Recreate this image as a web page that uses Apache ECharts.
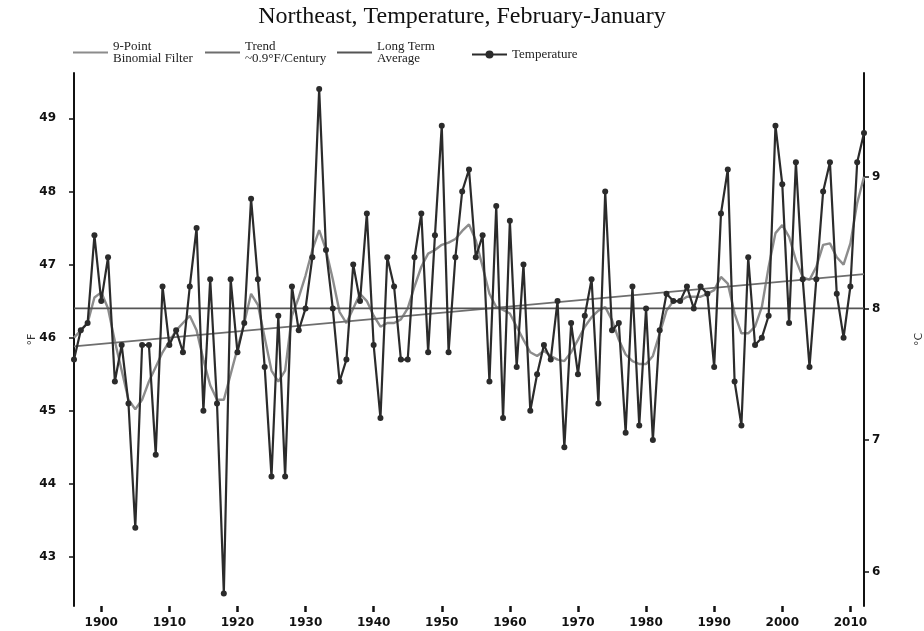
<!DOCTYPE html>
<html>
<head>
<meta charset="utf-8">
<title>Northeast, Temperature, February-January</title>
<script src="https://cdn.jsdelivr.net/npm/echarts@6.0.0/dist/echarts.min.js"></script>
<style>
  html, body { margin: 0; padding: 0; background: #fff; }
  #chart { width: 924px; height: 631px; }
</style>
</head>
<body>
<div id="chart"></div>
<script>
// annual (Feb-Jan) mean temperature, °F, 1896..2012
const firstYear = 1896;
const temperature = [
  45.7, 46.1, 46.2, 47.4, 46.5, 47.1, 45.4, 45.9, 45.1, 43.4,
  45.9, 45.9, 44.4, 46.7, 45.9, 46.1, 45.8, 46.7, 47.5, 45.0,
  46.8, 45.1, 42.5, 46.8, 45.8, 46.2, 47.9, 46.8, 45.6, 44.1,
  46.3, 44.1, 46.7, 46.1, 46.4, 47.1, 49.4, 47.2, 46.4, 45.4,
  45.7, 47.0, 46.5, 47.7, 45.9, 44.9, 47.1, 46.7, 45.7, 45.7,
  47.1, 47.7, 45.8, 47.4, 48.9, 45.8, 47.1, 48.0, 48.3, 47.1,
  47.4, 45.4, 47.8, 44.9, 47.6, 45.6, 47.0, 45.0, 45.5, 45.9,
  45.7, 46.5, 44.5, 46.2, 45.5, 46.3, 46.8, 45.1, 48.0, 46.1,
  46.2, 44.7, 46.7, 44.8, 46.4, 44.6, 46.1, 46.6, 46.5, 46.5,
  46.7, 46.4, 46.7, 46.6, 45.6, 47.7, 48.3, 45.4, 44.8, 47.1,
  45.9, 46.0, 46.3, 48.9, 48.1, 46.2, 48.4, 46.8, 45.6, 46.8,
  48.0, 48.4, 46.6, 46.0, 46.7, 48.4, 48.8
];
// 9-point binomial filter
const binomial = [
  46.0, 46.1, 46.2, 46.55, 46.62, 46.4, 45.95, 45.55, 45.15, 45.02,
  45.15, 45.4, 45.6, 45.8, 45.95, 46.1, 46.2, 46.3, 46.1, 45.7,
  45.35, 45.15, 45.15, 45.5, 45.85, 46.2, 46.6, 46.45, 46.0, 45.55,
  45.4, 45.55, 46.3, 46.55, 46.85, 47.2, 47.47, 47.2, 46.8, 46.35,
  46.2, 46.4, 46.6, 46.5, 46.3, 46.15, 46.2, 46.2, 46.25, 46.4,
  46.7, 46.97, 47.15, 47.2, 47.27, 47.3, 47.35, 47.46, 47.55, 47.33,
  46.97, 46.6, 46.42, 46.38, 46.33, 46.15, 45.97, 45.8, 45.75, 45.82,
  45.75, 45.7, 45.68, 45.8, 45.97, 46.15, 46.28, 46.37, 46.42, 46.24,
  45.97, 45.77, 45.68, 45.64, 45.64, 45.75, 46.06, 46.37, 46.5, 46.5,
  46.56, 46.56, 46.56, 46.6, 46.65, 46.83, 46.74, 46.33, 46.06, 46.06,
  46.15, 46.42, 46.97, 47.43, 47.54, 47.38, 47.06, 46.83, 46.79, 46.97,
  47.27, 47.29, 47.1, 47.0, 47.29, 47.84, 48.2
];
const trendEnds = [45.88, 46.87];   // trend line at first and last year
const longTermAvg = 46.4;
const yearTicks = [1900, 1910, 1920, 1930, 1940, 1950, 1960, 1970, 1980, 1990, 2000, 2010];
const fTicks = [43, 44, 45, 46, 47, 48, 49];
const cTicks = [6, 7, 8, 9];

const lastYear = firstYear + temperature.length - 1;
const years = temperature.map((v, i) => firstYear + i);
const fMin = 42.33, fMax = 49.62;
const toC = f => (f - 32) * 5 / 9;

const names = {
  filter: '9-Point\nBinomial Filter',
  trend: 'Trend\n~0.9°F/Century',
  avg: 'Long Term\nAverage',
  temp: 'Temperature'
};

const chart = echarts.init(document.getElementById('chart'));
const legendText = {
  fontFamily: 'Liberation Serif',
  fontSize: 13,
  lineHeight: 12,
  color: '#222'
};
// plain line swatch for the three reference lines, line + dot for temperature
const legendBase = (name, left, plain) => ({
  data: [plain ? { name: name, icon: 'rect' } : name],
  left: left,
  top: plain ? 35 : 43,
  itemWidth: 35,
  itemHeight: plain ? 2 : 10,
  itemGap: 8,
  textStyle: legendText,
  selectedMode: false
});

chart.setOption({
  animation: false,
  backgroundColor: '#fff',
  title: {
    text: 'Northeast, Temperature, February-January',
    left: 'center',
    top: 0,
    textStyle: {
      fontFamily: 'Liberation Serif',
      fontSize: 24,
      fontWeight: 'normal',
      color: '#111'
    }
  },
  legend: [
    legendBase(names.filter, 68, true),
    legendBase(names.trend, 200, true),
    legendBase(names.avg, 332, true),
    legendBase(names.temp, 466, false)
  ],
  grid: { left: 74, right: 60, top: 73, bottom: 25, outerBoundsMode: 'none' },
  xAxis: {
    type: 'value',
    min: firstYear,
    max: lastYear,
    splitLine: { show: false },
    axisLine: { show: false },
    axisTick: {
      show: true,
      length: 6,
      lineStyle: { color: '#111', width: 2.5 },
      customValues: yearTicks
    },
    axisLabel: {
      customValues: yearTicks,
      formatter: v => String(v),
      margin: 11,
      fontFamily: 'DejaVu Sans',
      fontWeight: 'bold',
      fontSize: 12,
      color: '#111'
    }
  },
  yAxis: [
    {
      type: 'value',
      min: fMin,
      max: fMax,
      name: '°F',
      nameLocation: 'middle',
      nameGap: 36,
      nameRotate: 90,
      nameMoveOverlap: false,
      nameTextStyle: { fontFamily: 'DejaVu Sans', fontSize: 11, color: '#333' },
      splitLine: { show: false },
      axisLine: { show: true, lineStyle: { color: '#111', width: 2 } },
      axisTick: {
        show: true,
        length: 5,
        lineStyle: { color: '#111', width: 1.5 },
        customValues: fTicks
      },
      axisLabel: {
        customValues: fTicks,
        margin: 18,
        fontFamily: 'DejaVu Sans',
        fontWeight: 'bold',
        fontSize: 12,
        color: '#111'
      }
    },
    {
      type: 'value',
      position: 'right',
      min: toC(fMin),
      max: toC(fMax),
      name: '°C',
      nameLocation: 'middle',
      nameGap: 50,
      nameRotate: 90,
      nameMoveOverlap: false,
      nameTextStyle: { fontFamily: 'DejaVu Sans', fontSize: 11, color: '#333' },
      splitLine: { show: false },
      axisLine: { show: true, lineStyle: { color: '#111', width: 2 } },
      axisTick: {
        show: true,
        length: 5,
        lineStyle: { color: '#111', width: 1.5 },
        customValues: cTicks
      },
      axisLabel: {
        customValues: cTicks,
        margin: 8,
        fontFamily: 'DejaVu Sans',
        fontWeight: 'bold',
        fontSize: 12,
        color: '#111'
      }
    }
  ],
  series: [
    {
      name: names.filter,
      type: 'line',
      data: years.map((y, i) => [y, binomial[i]]),
      symbol: 'none',
      lineStyle: { color: '#8c8c8c', width: 2.4 },
      itemStyle: { color: '#8c8c8c' },
      z: 2
    },
    {
      name: names.trend,
      type: 'line',
      data: [[firstYear, trendEnds[0]], [lastYear, trendEnds[1]]],
      symbol: 'none',
      lineStyle: { color: '#6e6e6e', width: 1.8 },
      itemStyle: { color: '#6e6e6e' },
      z: 3
    },
    {
      name: names.avg,
      type: 'line',
      data: [[firstYear, longTermAvg], [lastYear, longTermAvg]],
      symbol: 'none',
      lineStyle: { color: '#555', width: 1.8 },
      itemStyle: { color: '#555' },
      z: 3
    },
    {
      name: names.temp,
      type: 'line',
      data: years.map((y, i) => [y, temperature[i]]),
      symbol: 'circle',
      symbolSize: 6,
      lineStyle: { color: '#2b2b2b', width: 2.2 },
      itemStyle: { color: '#2b2b2b' },
      z: 5
    }
  ]
});
</script>
</body>
</html>
